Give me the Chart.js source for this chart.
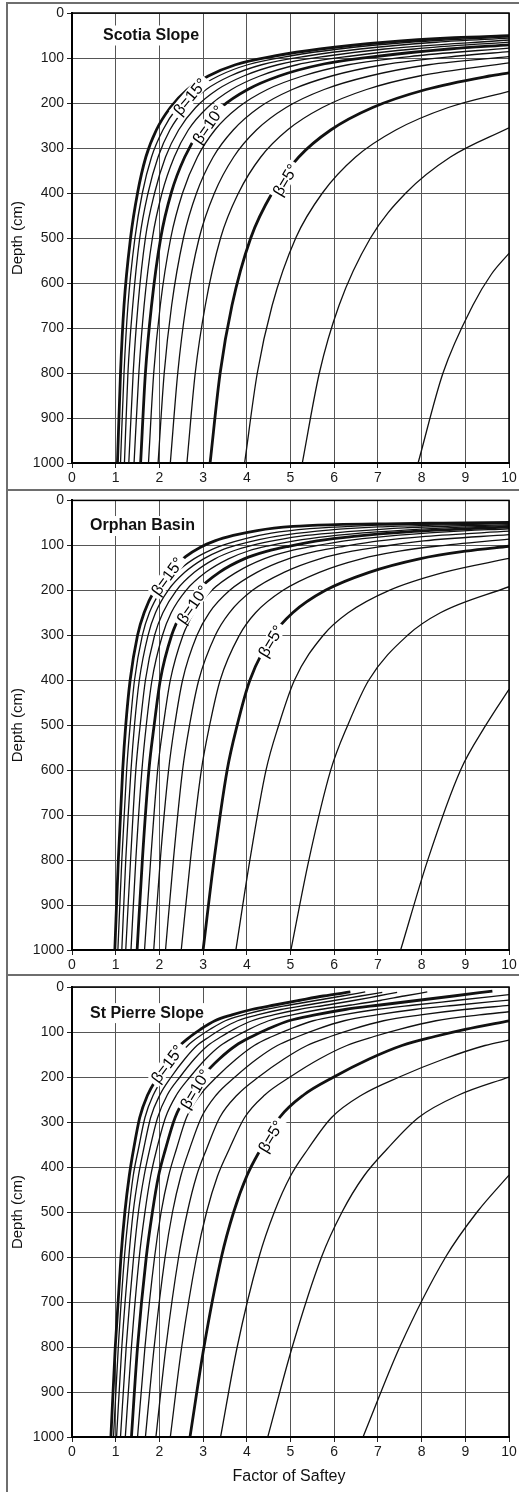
<!DOCTYPE html>
<html>
<head>
<meta charset="utf-8">
<script src="https://cdn.jsdelivr.net/npm/chart.js@4.4.1/dist/chart.umd.min.js"></script>
<style>
  html, body { margin: 0; padding: 0; background: #fff; }
  #fig { position: relative; width: 519px; height: 1492px; overflow: hidden; }
  .rule { position: absolute; background: #6e6e6e; }
  canvas { position: absolute; left: 0; }
</style>
</head>
<body>
<div id="fig">
  <div class="rule" style="left:6px;top:2px;width:2px;height:1490px"></div>
  <div class="rule" style="left:6px;top:2px;width:513px;height:2px"></div>
  <div class="rule" style="left:6px;top:489px;width:513px;height:2px"></div>
  <div class="rule" style="left:6px;top:974px;width:513px;height:2px"></div>
  <canvas id="c1" width="519" height="489" style="top:0"></canvas>
  <canvas id="c2" width="519" height="486" style="top:489px"></canvas>
  <canvas id="c3" width="519" height="517" style="top:975px"></canvas>
</div>
<script>
// slope angles (deg) of the curves, order of the arrays below
const betas = [2, 3, 4, 5, 6, 7, 8, 9, 10, 11, 12, 13, 14, 15];
const thickBetas = [5, 10, 15];
const fsTicks = [0, 1, 2, 3, 4, 5, 6, 7, 8, 9, 10];
const depthTicks = [0, 100, 200, 300, 400, 500, 600, 700, 800, 900, 1000];

// [factor of safety, depth cm], one list per beta
const scotia = [
  [[7.92,1000],[8.49,800],[9.17,650],[9.6,580],[10,534]],
  [[5.27,1000],[5.66,800],[6.11,650],[6.83,500],[7.64,400],[8.66,320],[10,255]],
  [[3.95,1000],[4.24,800],[4.58,650],[5.12,500],[5.73,400],[6.49,320],[7.41,260],[8.61,210],[10,174]],
  [[3.16,1000],[3.39,800],[3.66,650],[4.09,500],[4.58,400],[5.19,320],[5.92,260],[6.88,210],[8.10,170],[9.55,140],[10,133]],
  [[2.63,1000],[2.82,800],[3.05,650],[3.40,500],[3.81,400],[4.32,320],[4.93,260],[5.73,210],[6.74,170],[7.95,140],[10,111]],
  [[2.25,1000],[2.42,800],[2.61,650],[2.91,500],[3.26,400],[3.70,320],[4.22,260],[4.90,210],[5.77,170],[6.81,140],[8.16,115],[10,97]],
  [[1.97,1000],[2.11,800],[2.28,650],[2.55,500],[2.85,400],[3.23,320],[3.69,260],[4.28,210],[5.04,170],[5.94,140],[7.13,115],[8.90,95],[10,86]],
  [[1.75,1000],[1.87,800],[2.02,650],[2.26,500],[2.53,400],[2.87,320],[3.27,260],[3.80,210],[4.47,170],[5.28,140],[6.32,115],[7.90,95],[10,78]],
  [[1.57,1000],[1.68,800],[1.82,650],[2.03,500],[2.27,400],[2.58,320],[2.94,260],[3.41,210],[4.02,170],[4.74,140],[5.68,115],[7.10,95],[8.63,80],[10,71]],
  [[1.42,1000],[1.53,800],[1.65,650],[1.84,500],[2.06,400],[2.34,320],[2.66,260],[3.10,210],[3.65,170],[4.30,140],[5.15,115],[6.44,95],[7.83,80],[10,64.5]],
  [[1.30,1000],[1.40,800],[1.51,650],[1.68,500],[1.89,400],[2.14,320],[2.44,260],[2.83,210],[3.33,170],[3.93,140],[4.71,115],[5.89,95],[7.16,80],[10,60]],
  [[1.20,1000],[1.28,800],[1.39,650],[1.55,500],[1.74,400],[1.97,320],[2.24,260],[2.61,210],[3.07,170],[3.62,140],[4.34,115],[5.42,95],[6.59,80],[8.34,65],[10,56]],
  [[1.11,1000],[1.19,800],[1.28,650],[1.44,500],[1.61,400],[1.82,320],[2.08,260],[2.41,210],[2.84,170],[3.35,140],[4.02,115],[5.02,95],[6.11,80],[7.72,65],[10,53]],
  [[1.04,1000],[1.11,800],[1.19,650],[1.34,500],[1.50,400],[1.69,320],[1.93,260],[2.25,210],[2.64,170],[3.12,140],[3.74,115],[4.67,95],[5.68,80],[7.18,65],[8.75,55],[10,50.5]]
];

const orphan = [
  [[7.52,1000],[8.14,800],[8.89,600],[9.47,500],[10,420]],
  [[5.01,1000],[5.42,800],[5.92,600],[6.31,500],[6.79,400],[7.68,300],[8.43,250],[10,192]],
  [[3.75,1000],[4.07,800],[4.44,600],[4.73,500],[5.09,400],[5.75,300],[6.32,250],[7.26,200],[8.51,160],[10,129]],
  [[3.0,1000],[3.25,800],[3.55,600],[3.78,500],[4.07,400],[4.6,300],[5.05,250],[5.8,200],[6.8,160],[7.95,130],[9.0,113],[10,102]],
  [[2.50,1000],[2.71,800],[2.96,600],[3.15,500],[3.39,400],[3.83,300],[4.20,250],[4.83,200],[5.66,160],[6.62,130],[7.49,113],[8.33,102],[10,86]],
  [[2.14,1000],[2.32,800],[2.53,600],[2.69,500],[2.90,400],[3.28,300],[3.60,250],[4.13,200],[4.85,160],[5.67,130],[6.41,113],[7.13,102],[8.05,90],[10,76]],
  [[1.87,1000],[2.02,800],[2.21,600],[2.35,500],[2.53,400],[2.86,300],[3.14,250],[3.61,200],[4.23,160],[4.95,130],[5.60,113],[6.23,102],[7.03,90],[8.09,80],[10,68.5]],
  [[1.66,1000],[1.80,800],[1.96,600],[2.09,500],[2.25,400],[2.54,300],[2.79,250],[3.20,200],[3.76,160],[4.39,130],[4.97,113],[5.52,102],[6.24,90],[7.18,80],[8.56,70],[10,63]],
  [[1.49,1000],[1.61,800],[1.76,600],[1.88,500],[2.02,400],[2.28,300],[2.51,250],[2.88,200],[3.37,160],[3.94,130],[4.47,113],[4.96,102],[5.61,90],[6.45,80],[7.69,70],[10,59]],
  [[1.35,1000],[1.46,800],[1.60,600],[1.70,500],[1.83,400],[2.07,300],[2.27,250],[2.61,200],[3.06,160],[3.58,130],[4.05,112],[4.50,101],[5.09,90],[5.85,80],[6.98,70],[8.33,62],[10,56]],
  [[1.23,1000],[1.34,800],[1.46,600],[1.56,500],[1.68,400],[1.89,300],[2.08,250],[2.39,200],[2.80,160],[3.27,130],[3.70,112],[4.12,100],[4.65,89],[5.35,78],[6.38,69],[7.61,61],[10,53.7]],
  [[1.14,1000],[1.23,800],[1.35,600],[1.43,500],[1.54,400],[1.74,300],[1.91,250],[2.20,200],[2.58,160],[3.01,130],[3.41,111],[3.79,99],[4.28,87],[4.93,76],[5.87,66],[7.01,59],[8.34,55],[10,51.8]],
  [[1.05,1000],[1.14,800],[1.25,600],[1.33,500],[1.43,400],[1.61,300],[1.77,250],[2.04,200],[2.39,160],[2.79,130],[3.16,111],[3.51,98],[3.97,85],[4.56,73],[5.44,63],[6.49,57],[7.72,53.5],[10,50.5]],
  [[0.98,1000],[1.06,800],[1.16,600],[1.23,500],[1.33,400],[1.50,300],[1.65,250],[1.89,200],[2.22,160],[2.60,125],[2.94,104],[3.27,90],[3.69,78],[4.24,67],[5.06,58],[6.04,54],[7.18,52],[8.49,50.5],[10,49]]
];

const stPierre = [
  [[6.66,1000],[7.5,800],[8.55,600],[9.27,500],[10,418]],
  [[4.48,1000],[5.04,800],[5.71,600],[6.18,500],[6.68,420],[7.21,360],[7.93,290],[8.85,240],[10,200]],
  [[3.40,1000],[3.78,800],[4.28,600],[4.63,500],[5.0,420],[5.40,360],[5.94,290],[6.63,240],[7.49,200],[8.51,160],[9.45,130],[10,118]],
  [[2.70,1000],[3.02,800],[3.42,600],[3.70,500],[4.0,420],[4.32,360],[4.75,290],[5.3,240],[5.99,200],[6.8,160],[7.55,130],[8.3,110],[9.0,94],[10,75]],
  [[2.25,1000],[2.51,800],[2.85,600],[3.08,500],[3.33,420],[3.60,360],[3.95,290],[4.41,240],[4.99,200],[5.66,160],[6.29,130],[6.91,110],[7.49,94],[8.33,75],[9.32,62],[10,55]],
  [[1.92,1000],[2.15,800],[2.44,600],[2.64,500],[2.85,420],[3.08,360],[3.38,290],[3.78,240],[4.27,200],[4.85,160],[5.38,130],[5.91,110],[6.41,94],[7.13,75],[7.98,62],[8.98,50],[10,41]],
  [[1.68,1000],[1.88,800],[2.13,600],[2.30,500],[2.49,420],[2.69,360],[2.96,290],[3.30,240],[3.73,200],[4.23,160],[4.70,130],[5.17,110],[5.60,94],[6.23,75],[6.97,62],[7.84,50],[8.84,40],[10,29]],
  [[1.50,1000],[1.67,800],[1.89,600],[2.04,500],[2.21,420],[2.39,360],[2.62,290],[2.93,240],[3.31,200],[3.76,160],[4.17,130],[4.58,110],[4.97,94],[5.52,75],[6.19,62],[6.96,50],[7.84,40],[8.78,30],[10,17]],
  [[1.36,1000],[1.50,800],[1.70,600],[1.84,500],[1.98,420],[2.14,360],[2.36,290],[2.63,240],[2.97,200],[3.37,160],[3.75,130],[4.12,110],[4.47,94],[4.96,75],[5.56,62],[6.25,50],[7.05,40],[7.89,30],[8.73,20],[9.62,9]],
  [[1.22,1000],[1.36,800],[1.54,600],[1.67,500],[1.80,420],[1.94,360],[2.14,290],[2.39,240],[2.70,200],[3.06,160],[3.40,130],[3.74,110],[4.05,94],[4.50,75],[5.04,62],[5.67,50],[6.39,40],[7.05,30],[7.6,20],[8.13,11]],
  [[1.11,1000],[1.24,800],[1.41,600],[1.52,500],[1.65,420],[1.78,360],[1.96,290],[2.18,240],[2.47,200],[2.80,160],[3.11,130],[3.42,110],[3.70,94],[4.12,75],[4.61,62],[5.19,50],[5.84,40],[6.45,30],[7.0,20],[7.44,12]],
  [[1.02,1000],[1.14,800],[1.30,600],[1.40,500],[1.52,420],[1.64,360],[1.80,290],[2.01,240],[2.27,200],[2.58,160],[2.86,130],[3.15,110],[3.41,94],[3.79,75],[4.24,62],[4.78,50],[5.38,40],[6.0,30],[6.6,20],[7.1,12]],
  [[0.95,1000],[1.06,800],[1.20,600],[1.30,500],[1.40,420],[1.52,360],[1.67,290],[1.86,240],[2.10,200],[2.39,160],[2.65,130],[2.91,110],[3.16,94],[3.51,75],[3.93,62],[4.42,50],[4.98,40],[5.58,30],[6.18,20],[6.71,11]],
  [[0.89,1000],[0.99,800],[1.12,600],[1.21,500],[1.31,420],[1.41,360],[1.55,290],[1.73,240],[1.96,200],[2.22,160],[2.47,130],[2.71,110],[2.94,94],[3.27,75],[3.66,62],[4.11,50],[4.64,40],[5.19,30],[5.75,20],[6.37,11]]
];

// panel layout: where the plot sits in each canvas, and label placement
const panels = [
  { id: 'c1', name: 'Scotia Slope', curves: scotia, top: 13, axisH: 26, nameAt: [103, 50],
    labels: [{b: 15, fs: 2.70, d: 186, a: 50}, {b: 10, fs: 3.12, d: 248, a: 55}, {b: 5, fs: 4.88, d: 371, a: 59}] },
  { id: 'c2', name: 'Orphan Basin', curves: orphan, top: 11, axisH: 25, nameAt: [90, 57],
    labels: [{b: 15, fs: 2.18, d: 169, a: 54}, {b: 10, fs: 2.76, d: 232, a: 55}, {b: 5, fs: 4.55, d: 313, a: 59}] },
  { id: 'c3', name: 'St Pierre Slope', curves: stPierre, top: 12, axisH: 55, nameAt: [90, 58], xTitle: 'Factor of Saftey',
    labels: [{b: 15, fs: 2.18, d: 171, a: 53}, {b: 10, fs: 2.82, d: 227, a: 59}, {b: 5, fs: 4.55, d: 332, a: 59}] }
];

const FONT = '"Liberation Sans", Arial, sans-serif';
Chart.defaults.font.family = FONT;
Chart.defaults.color = '#1a1a1a';

const decor = {
  id: 'decor',
  afterDatasetsDraw(chart, args, opts) {
    const { ctx, chartArea: a, scales: { x, y } } = chart;
    ctx.save();
    ctx.strokeStyle = '#000';
    ctx.lineWidth = 1.5;
    ctx.strokeRect(a.left, a.top, a.right - a.left, a.bottom - a.top);

    // beta labels along the thick curves
    ctx.font = '16px ' + FONT;
    ctx.textAlign = 'center';
    ctx.textBaseline = 'middle';
    opts.labels.forEach(l => {
      const txt = 'β=' + l.b + '°';
      ctx.save();
      ctx.translate(x.getPixelForValue(l.fs), y.getPixelForValue(l.d));
      ctx.rotate(-l.a * Math.PI / 180);
      const w = ctx.measureText(txt).width;
      ctx.fillStyle = '#fff';
      ctx.fillRect(-w / 2 - 3, -7, w + 6, 14);
      ctx.fillStyle = '#000';
      ctx.fillText(txt, 0, 1);
      ctx.restore();
    });

    // panel name
    ctx.font = 'bold 16px ' + FONT;
    ctx.textAlign = 'left';
    const nx = opts.nameAt[0], ny = y.getPixelForValue(opts.nameAt[1]);
    const nw = ctx.measureText(opts.name).width;
    ctx.fillStyle = '#fff';
    ctx.fillRect(nx - 3, ny - 10, nw + 6, 20);
    ctx.fillStyle = '#111';
    ctx.fillText(opts.name, nx, ny);

    // axis titles
    ctx.font = '15px ' + FONT;
    ctx.textAlign = 'center';
    ctx.save();
    ctx.translate(18, (a.top + a.bottom) / 2);
    ctx.rotate(-Math.PI / 2);
    ctx.fillText('Depth (cm)', 0, 0);
    ctx.restore();
    if (opts.xTitle) {
      ctx.font = '16px ' + FONT;
      ctx.fillText(opts.xTitle, 289, a.bottom + 40);
    }
    ctx.restore();
  }
};

panels.forEach(p => {
  const datasets = p.curves.map((pts, i) => ({
    data: pts.map(([fs, d]) => ({ x: fs, y: d })),
    showLine: true,
    borderColor: '#111',
    borderWidth: thickBetas.includes(betas[i]) ? 2.8 : 1.3,
    pointRadius: 0,
    cubicInterpolationMode: 'monotone',
    fill: false
  }));

  new Chart(document.getElementById(p.id), {
    type: 'scatter',
    data: { datasets },
    options: {
      responsive: false,
      animation: false,
      layout: { padding: { top: p.top, right: 10, left: 0, bottom: 0 } },
      plugins: {
        legend: { display: false },
        tooltip: { enabled: false },
        decor: { labels: p.labels, name: p.name, nameAt: p.nameAt, xTitle: p.xTitle }
      },
      scales: {
        x: {
          type: 'linear', min: 0, max: 10,
          afterBuildTicks: s => { s.ticks = fsTicks.map(v => ({ value: v })); },
          afterFit: s => { s.height = p.axisH; },
          ticks: { font: { size: 14 }, padding: 2, maxRotation: 0, callback: v => String(v) },
          grid: { color: '#555', lineWidth: 1, tickLength: 5, tickColor: '#222' },
          border: { color: '#000', width: 2 }
        },
        y: {
          type: 'linear', min: 0, max: 1000, reverse: true,
          afterBuildTicks: s => { s.ticks = depthTicks.map(v => ({ value: v })); },
          afterFit: s => { s.width = 72; },
          ticks: { font: { size: 14 }, padding: 3, callback: v => String(v) },
          grid: { color: '#555', lineWidth: 1, tickLength: 5, tickColor: '#222' },
          border: { color: '#000', width: 2 }
        }
      }
    },
    plugins: [decor]
  });
});
</script>
</body>
</html>
